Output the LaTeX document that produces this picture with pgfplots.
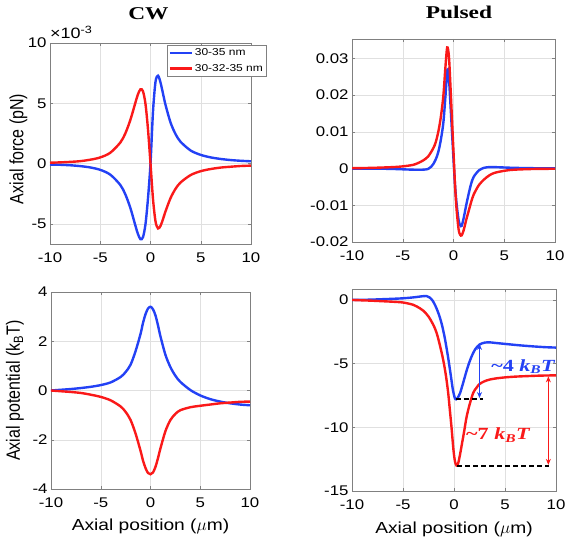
\documentclass[border=0pt]{standalone}
\usepackage{pgfplots}
\pgfplotsset{compat=1.18}
\usepackage{fontspec}
\setmainfont{Liberation Sans}
\newfontfamily\stsans[FakeStretch=1.2]{Liberation Sans}
\newfontfamily\stserif[FakeStretch=1.3]{Liberation Serif}
\usetikzlibrary{arrows.meta}
\definecolor{cblue}{RGB}{35,65,245}
\definecolor{cred}{RGB}{250,25,25}
\pgfplotsset{
 myax/.style={
  scale only axis, clip mode=individual, axis line style={black!50, line width=0.6pt},
  tick align=inside, xtick pos=both, ytick pos=both,
  major tick length=3pt, tick style={black!50, line width=0.5pt},
  grid=major, major grid style={black!12, line width=0.5pt},
  xmin=-10, xmax=10, xtick={-10,-5,0,5,10}, xticklabels={-10,-5,0,5,10},
  tick label style={font=\stsans\fontsize{14}{16}\selectfont},
  xticklabel style={yshift=-5pt},
  xlabel style={font=\stsans\fontsize{16}{18}\selectfont, at={(axis description cs:0.5,-0.21)}, anchor=base},
  ylabel style={font=\rmfamily\fontsize{16}{18}\selectfont, anchor=base},
 },
 blueline/.style={cblue, line width=2.4pt, smooth},
 redline/.style={cred, line width=2.4pt, smooth},
}
\newcommand\ttl{\stserif\bfseries\fontsize{18}{20}\selectfont}
\begin{document}
\begin{tikzpicture}
\useasboundingbox (0,0) rectangle (567pt,-545pt);
% ---------------- CW force
\begin{axis}[myax, at={(50pt,-43pt)}, anchor=north west, width=201pt, height=201pt,
  ymin=-6.67e-3, ymax=10e-3, ytick={-5e-3,0,5e-3,10e-3}, yticklabels={-5,0,5,10},
  scaled y ticks=false,
  ylabel={\scalebox{1}[1.2]{Axial force (pN)}},
  ylabel style={at={(axis description cs:-0.132,0.473)}},
  legend cell align=left,
  legend style={at={(0.582,0.99)}, anchor=north west, draw=black!50,
    font=\stsans\fontsize{10}{12}\selectfont, inner sep=1.5pt, row sep=3pt},
  legend image code/.code={\draw[#1, line width=2.2pt] (0pt,0pt) -- (22pt,0pt);}]
\addplot[blueline] coordinates {
(-10,-0.08e-3) (-9,-0.10e-3) (-8,-0.14e-3) (-7,-0.21e-3) (-6,-0.32e-3) (-5,-0.52e-3)
(-4,-0.92e-3) (-3,-1.78e-3) (-2.5,-2.56e-3) (-2,-3.69e-3) (-1.5,-5.15e-3) (-1.25,-5.84e-3)
(-1,-6.27e-3) (-0.75,-6.11e-3) (-0.5,-5.03e-3) (-0.25,-2.89e-3) (0,0) (0.25,4.33e-3)
(0.5,6.79e-3) (0.75,7.29e-3) (1,6.71e-3) (1.25,5.78e-3) (1.5,4.85e-3) (2,3.39e-3)
(2.5,2.43e-3) (3,1.80e-3) (4,1.08e-3) (5,0.72e-3) (6,0.51e-3) (7,0.38e-3) (8,0.29e-3)
(9,0.23e-3) (10,0.19e-3)};
\addlegendentry{30-35 nm}
\addplot[redline] coordinates {
(-10,0.07e-3) (-9,0.10e-3) (-8,0.14e-3) (-7,0.20e-3) (-6,0.32e-3) (-5,0.51e-3)
(-4,0.90e-3) (-3,1.75e-3) (-2.5,2.51e-3) (-2,3.63e-3) (-1.5,5.06e-3) (-1.25,5.74e-3)
(-1,6.16e-3) (-0.75,6.00e-3) (-0.5,4.95e-3) (-0.25,2.84e-3) (0,0) (0.25,-2.95e-3)
(0.5,-4.80e-3) (0.75,-5.38e-3) (1,-5.16e-3) (1.25,-4.59e-3) (1.5,-3.95e-3) (2,-2.85e-3)
(2.5,-2.08e-3) (3,-1.56e-3) (4,-0.95e-3) (5,-0.63e-3) (6,-0.45e-3) (7,-0.33e-3)
(8,-0.26e-3) (9,-0.20e-3) (10,-0.17e-3)};
\addlegendentry{30-32-35 nm}
\node[anchor=base west, inner sep=0pt, yshift=4.7pt] at (rel axis cs:0,1) {\stsans\fontsize{15}{17}\selectfont ×10\textsuperscript{-3}};
\node[anchor=base, inner sep=0pt, font=\ttl] at (axis description cs:0.49,1.119) {CW};
\end{axis}
% ---------------- Pulsed force
\begin{axis}[myax, at={(352pt,-39pt)}, anchor=north west, width=203pt, height=203pt,
  ymin=-0.02, ymax=0.0353, ytick={-0.02,-0.01,0,0.01,0.02,0.03},
  yticklabels={-0.02,-0.01,0,0.01,0.02,0.03}, scaled y ticks=false]
\addplot[blueline] coordinates {
(-10,0) (-8,0.0) (-6,-0.0001) (-4,-0.0003) (-3,-0.0003) (-2.5,-0.0001) (-2.2,0.0005)
(-2,0.0012) (-1.75,0.0025) (-1.5,0.0045) (-1.25,0.0078) (-1,0.0125) (-0.8,0.0195)
(-0.6,0.0269) (-0.45,0.0245) (-0.3,0.0175) (-0.15,0.0100) (0,0.0025) (0.15,-0.0045)
(0.3,-0.0095) (0.5,-0.0140) (0.65,-0.0154) (0.8,-0.0156) (1,-0.0135) (1.25,-0.0100)
(1.5,-0.0068) (1.75,-0.0040) (2,-0.0022) (2.5,-0.0005) (3,0.0002) (3.5,0.0004)
(4,0.0004) (5,0.0003) (6,0.0002) (8,0.0001) (10,0.0001)};
\addplot[redline] coordinates {
(-10,0.0001) (-8,0.0002) (-6,0.0004) (-5,0.0006) (-4,0.0010) (-3.5,0.0015) (-3,0.0022)
(-2.5,0.0033) (-2,0.0055) (-1.75,0.0072) (-1.5,0.0100) (-1.25,0.0140) (-1,0.0198)
(-0.8,0.0275) (-0.62,0.0330) (-0.45,0.0305) (-0.3,0.0225) (-0.15,0.0135) (0,0.0045)
(0.15,-0.0045) (0.3,-0.0110) (0.5,-0.0165) (0.65,-0.0180) (0.8,-0.0182) (1,-0.0168)
(1.25,-0.0140) (1.5,-0.0115) (1.75,-0.0090) (2,-0.0070) (2.5,-0.0045) (3,-0.0030)
(3.5,-0.0019) (4,-0.0012) (5,-0.0006) (6,-0.0003) (8,-0.0001) (10,-0.00005)};
\node[anchor=base, inner sep=0pt, font=\ttl] at (axis description cs:0.527,1.099) {Pulsed};
\end{axis}
% ---------------- CW potential
\begin{axis}[myax, at={(51pt,-292pt)}, anchor=north west, width=199pt, height=197pt,
  ymin=-4, ymax=4, ytick={-4,-2,0,2,4}, yticklabels={-4,-2,0,2,4},
  xlabel={Axial position ($\mu$m)},
  ylabel={\scalebox{1}[1.2]{Axial potential (k\textsubscript{B}T)}},
  ylabel style={at={(axis description cs:-0.156,0.5)}}]
\addplot[blueline] coordinates {
(-10,0.0) (-9,0.03) (-8,0.06) (-7,0.1) (-6,0.15) (-5,0.22) (-4,0.33) (-3,0.55)
(-2.5,0.75) (-2,1.05) (-1.5,1.6) (-1,2.3) (-0.75,2.75) (-0.5,3.1) (-0.25,3.33) (0,3.4)
(0.25,3.3) (0.5,3.05) (0.75,2.65) (1,2.2) (1.5,1.45) (2,0.95) (2.5,0.6) (3,0.35)
(4,0.02) (5,-0.2) (6,-0.35) (7,-0.45) (8,-0.52) (9,-0.57) (10,-0.6)};
\addplot[redline] coordinates {
(-10,0.0) (-9,-0.03) (-8,-0.06) (-7,-0.1) (-6,-0.17) (-5,-0.26) (-4,-0.4) (-3,-0.65)
(-2.5,-0.87) (-2,-1.2) (-1.5,-1.75) (-1,-2.45) (-0.75,-2.85) (-0.5,-3.15) (-0.25,-3.35)
(0,-3.4) (0.25,-3.33) (0.5,-3.1) (0.75,-2.75) (1,-2.35) (1.5,-1.65) (2,-1.2) (2.5,-0.95)
(3,-0.8) (4,-0.68) (5,-0.62) (6,-0.57) (7,-0.52) (8,-0.49) (9,-0.46) (10,-0.45)};
\end{axis}
% ---------------- Pulsed potential
\begin{axis}[myax, at={(352pt,-289pt)}, anchor=north west, width=204pt, height=202pt,
  ymin=-15, ymax=0.86, ytick={-15,-10,-5,0}, yticklabels={-15,-10,-5,0},
  xlabel={Axial position ($\mu$m)}]
\addplot[blueline] coordinates {
(-10,0) (-9,0.01) (-8,0.03) (-7,0.06) (-6,0.09) (-5,0.13) (-4,0.2) (-3.5,0.25) (-3,0.3)
(-2.7,0.31) (-2.4,0.2) (-2.1,-0.05) (-1.8,-0.5) (-1.5,-1.1) (-1.2,-1.9) (-0.9,-3.0)
(-0.6,-4.4) (-0.3,-6.0) (-0.1,-7.1) (0.1,-7.75) (0.2,-7.8) (0.35,-7.7) (0.6,-7.3)
(0.9,-6.5) (1.2,-5.65) (1.5,-4.9) (1.8,-4.3) (2.1,-3.85) (2.5,-3.5) (3,-3.35) (3.5,-3.33)
(4,-3.37) (5,-3.45) (6,-3.53) (7,-3.6) (8,-3.66) (9,-3.71) (10,-3.74)};
\addplot[redline] coordinates {
(-10,0) (-9,-0.03) (-8,-0.06) (-7,-0.1) (-6,-0.14) (-5,-0.2) (-4,-0.38) (-3.35,-0.65)
(-3,-0.85) (-2.5,-1.3) (-2,-2.0) (-1.7,-2.6) (-1.4,-3.5) (-1.06,-4.7) (-0.8,-5.9)
(-0.57,-7.3) (-0.4,-8.7) (-0.25,-9.95) (-0.05,-11.8) (0.1,-12.7) (0.25,-13.0) (0.4,-12.85)
(0.6,-12.1) (0.8,-11.2) (1,-10.3) (1.23,-9.2) (1.5,-8.3) (1.88,-7.3) (2.2,-6.9) (2.5,-6.6)
(3,-6.38) (3.5,-6.25) (4.2,-6.15) (5,-6.08) (6,-6.02) (7.45,-5.97) (8.5,-5.94) (10,-5.92)};
\addplot[black, line width=1.6pt, dash pattern=on 5pt off 3pt] coordinates {(0.15,-7.8) (2.8,-7.8)};
\addplot[black, line width=1.6pt, dash pattern=on 5pt off 3pt] coordinates {(0.3,-13.04) (9.35,-13.04)};
\addplot[cblue, line width=1.3pt, <->, >={Stealth[length=6pt,width=5pt]}] coordinates {(2.5,-3.45) (2.5,-7.7)};
\addplot[cred, line width=1.3pt, <->, >={Stealth[length=6pt,width=5pt]}] coordinates {(9.25,-6.0) (9.25,-12.95)};
\node[text=cblue, font=\stserif\bfseries\fontsize{17}{19}\selectfont] at (axis cs:6.8,-5.24) {\textasciitilde4 \textit{k}\textsubscript{\textit{B}}\textit{T}};
\node[text=cred, font=\stserif\bfseries\fontsize{17}{19}\selectfont] at (axis cs:4.34,-10.6) {\textasciitilde7 \textit{k}\textsubscript{\textit{B}}\textit{T}};
\end{axis}
\end{tikzpicture}
\end{document}
